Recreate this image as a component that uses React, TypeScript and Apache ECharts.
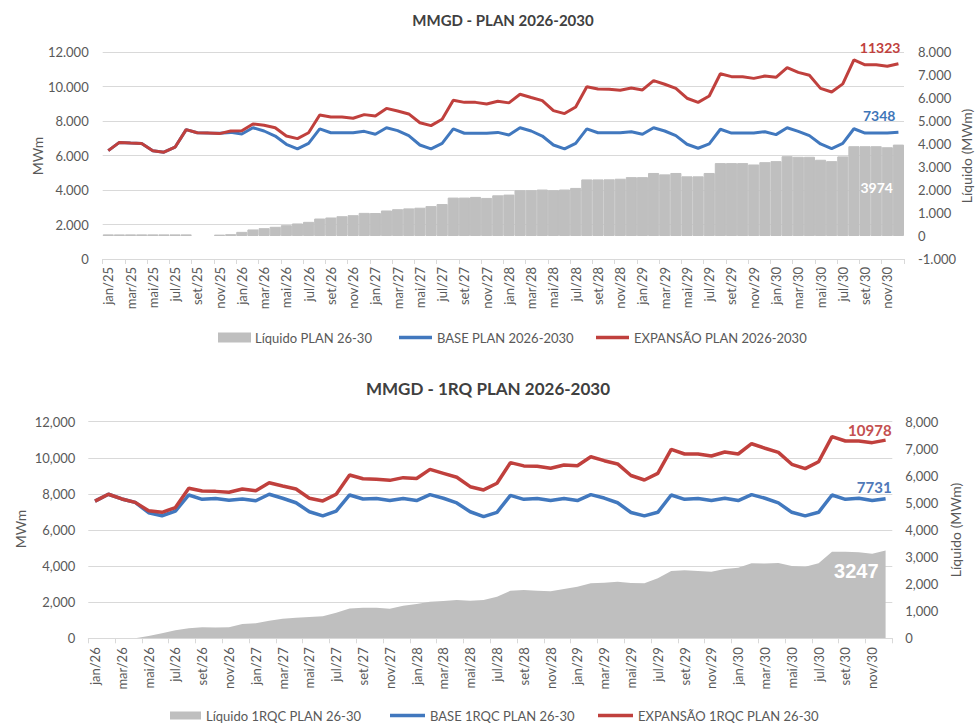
import React, { useEffect, useRef } from "react";
import * as echarts from "echarts";

const MONTHS = ["jan", "fev", "mar", "abr", "mai", "jun", "jul", "ago", "set", "out", "nov", "dez"];
const YEARS_TOP = ["25", "26", "27", "28", "29", "30"];
const YEARS_BOTTOM = ["26", "27", "28", "29", "30"];
const catsTop = YEARS_TOP.flatMap((y) => MONTHS.map((m) => `${m}/${y}`));
const catsBottom = YEARS_BOTTOM.flatMap((y) => MONTHS.map((m) => `${m}/${y}`));

const baseTop = [
  6280, 6760, 6720, 6690, 6280, 6190, 6480, 7500, 7320, 7300, 7290, 7340,
  7250, 7610, 7420, 7130, 6650, 6380, 6700, 7540, 7320, 7320, 7320, 7400,
  7230, 7610, 7440, 7150, 6610, 6380, 6700, 7540, 7290, 7290, 7290, 7340,
  7190, 7610, 7420, 7130, 6610, 6380, 6700, 7540, 7320, 7320, 7320, 7380,
  7230, 7610, 7420, 7150, 6650, 6420, 6670, 7520, 7300, 7300, 7300, 7380,
  7210, 7610, 7400, 7150, 6670, 6400, 6700, 7550, 7300, 7300, 7300, 7348,
];
const expTop = [
  6280, 6760, 6720, 6690, 6280, 6190, 6480, 7500, 7320, 7300, 7270, 7420,
  7440, 7830, 7750, 7610, 7130, 6980, 7320, 8350, 8230, 8230, 8160, 8370,
  8290, 8730, 8580, 8410, 7900, 7730, 8100, 9200, 9080, 9080, 8990, 9140,
  9050, 9550, 9360, 9180, 8600, 8430, 8810, 9990, 9860, 9840, 9780, 9910,
  9800, 10340, 10130, 9890, 9320, 9080, 9450, 10740, 10570, 10570, 10470, 10610,
  10530, 11090, 10820, 10650, 9890, 9680, 10150, 11540, 11260, 11260, 11170, 11323,
];
const liqTop = [
  70, 70, 70, 70, 70, 70, 70, 70, null, null, 60, 80,
  180, 285, 340, 400, 470, 545, 615, 760, 805, 860, 905, 1005,
  1000, 1110, 1165, 1200, 1230, 1300, 1390, 1670, 1670, 1700, 1655, 1770,
  1800, 1990, 1990, 2020, 1990, 2020, 2090, 2460, 2460, 2465, 2490, 2560,
  2560, 2740, 2680, 2740, 2595, 2595, 2740, 3170, 3170, 3170, 3110, 3210,
  3255, 3470, 3445, 3445, 3315, 3255, 3460, 3905, 3905, 3905, 3860, 3974,
];

const baseBottom = [
  7600, 7980, 7720, 7530, 6960, 6790, 7050, 7940, 7700, 7740, 7650, 7720,
  7620, 7980, 7760, 7510, 7010, 6780, 7050, 7940, 7720, 7740, 7630, 7740,
  7630, 7960, 7760, 7500, 7010, 6740, 6980, 7920, 7700, 7740, 7630, 7740,
  7630, 7960, 7770, 7510, 6970, 6780, 6980, 7940, 7700, 7740, 7630, 7760,
  7630, 7960, 7760, 7500, 6980, 6780, 6980, 7940, 7700, 7760, 7630, 7731,
];
const expBottom = [
  7600, 7980, 7720, 7530, 7070, 6980, 7240, 8310, 8160, 8140, 8090, 8270,
  8180, 8620, 8440, 8270, 7760, 7610, 7980, 9050, 8840, 8810, 8750, 8900,
  8850, 9360, 9140, 8920, 8400, 8220, 8590, 9730, 9550, 9530, 9420, 9600,
  9560, 10060, 9840, 9660, 9020, 8770, 9140, 10470, 10210, 10210, 10100, 10320,
  10210, 10780, 10530, 10300, 9640, 9400, 9780, 11170, 10930, 10930, 10840, 10978,
];
const liqBottom = [
  0, 0, 0, 0, 85, 185, 300, 370, 405, 400, 405, 528,
  553, 650, 725, 762, 787, 812, 946, 1100, 1130, 1130, 1094, 1204,
  1267, 1352, 1378, 1415, 1389, 1415, 1537, 1758, 1784, 1758, 1736, 1821,
  1906, 2032, 2054, 2091, 2040, 2032, 2216, 2486, 2512, 2486, 2460, 2560,
  2608, 2770, 2760, 2781, 2671, 2645, 2770, 3199, 3199, 3177, 3125, 3247,
];

const FONT = "Lato, 'Liberation Sans', sans-serif";
const RED = "#C0403D";
const BLUE = "#4178BE";
const GRAY = "#BFBFBF";
const TXT = "#595959";
const GRID = "#D9D9D9";

const fmtDot = (v: number) => {
  const s = Math.abs(v).toString().replace(/\B(?=(\d{3})+(?!\d))/g, ".");
  return (v < 0 ? "-" : "") + s;
};
const fmtComma = (v: number) => {
  const s = Math.abs(v).toString().replace(/\B(?=(\d{3})+(?!\d))/g, ",");
  return (v < 0 ? "-" : "") + s;
};

function lastLabel(arr: (number | null)[], label: any) {
  return arr.map((v, i) =>
    v === null ? "-" : i === arr.length - 1 ? { value: v, label: { show: true, ...label } } : v
  );
}

const axisLabelX = { rotate: 90, interval: 1, color: TXT, fontSize: 13, fontFamily: FONT, margin: 8 };

export default function App() {
  const ref = useRef<HTMLDivElement>(null);
  useEffect(() => {
    if (!ref.current) return;
    const chart = echarts.init(ref.current, undefined, { renderer: "svg" });
    const legendCommon = { padding: 0, textStyle: { color: TXT, fontSize: 13, fontFamily: FONT }, selectedMode: false };
    const option: any = {
      animation: false,
      backgroundColor: "#fff",
      graphic: [
        { type: "text", x: 503, y: 20, style: { text: "MMGD - PLAN 2026-2030", fill: "#404040", font: `bold 15px ${FONT}`, align: "center", verticalAlign: "middle" } },
        { type: "text", x: 488, y: 388, style: { text: "MMGD - 1RQ PLAN 2026-2030", fill: "#404040", font: `bold 17px ${FONT}`, align: "center", verticalAlign: "middle" } },
        { type: "text", x: 37, y: 156, rotation: Math.PI / 2, style: { text: "MWm", fill: TXT, font: `14px ${FONT}`, align: "center", verticalAlign: "middle" } },
        { type: "text", x: 966, y: 156, rotation: Math.PI / 2, style: { text: "Líquido (MWm)", fill: TXT, font: `14px ${FONT}`, align: "center", verticalAlign: "middle" } },
        { type: "text", x: 20, y: 529, rotation: Math.PI / 2, style: { text: "MWm", fill: TXT, font: `14px ${FONT}`, align: "center", verticalAlign: "middle" } },
        { type: "text", x: 955, y: 530, rotation: Math.PI / 2, style: { text: "Líquido (MWm)", fill: TXT, font: `14px ${FONT}`, align: "center", verticalAlign: "middle" } },
      ],
      legend: [
        { ...legendCommon, data: ["Líquido PLAN 26-30"], left: 218, top: 331, icon: "rect", itemWidth: 31, itemHeight: 8 },
        { ...legendCommon, data: ["BASE PLAN 2026-2030"], left: 399, top: 331, icon: "rect", itemWidth: 33, itemHeight: 3.5 },
        { ...legendCommon, data: ["EXPANSÃO PLAN 2026-2030"], left: 596, top: 331, icon: "rect", itemWidth: 33, itemHeight: 3.5 },
        { ...legendCommon, data: ["Líquido 1RQC PLAN 26-30"], left: 170, top: 709, icon: "rect", itemWidth: 31, itemHeight: 8 },
        { ...legendCommon, data: ["BASE 1RQC PLAN 26-30"], left: 390, top: 709, icon: "rect", itemWidth: 35, itemHeight: 3.5 },
        { ...legendCommon, data: ["EXPANSÃO 1RQC PLAN 26-30"], left: 598, top: 709, icon: "rect", itemWidth: 35, itemHeight: 3.5 },
      ],
      grid: [
        { left: 102.7, right: 73, top: 52, height: 207 },
        { left: 88.3, right: 84.7, top: 421.7, height: 216.6 },
      ],
      xAxis: [
        {
          type: "category", gridIndex: 0, data: catsTop, boundaryGap: true,
          axisLine: { onZero: false, lineStyle: { color: GRID } },
          axisTick: { show: true, interval: 1, length: 5, lineStyle: { color: GRID } },
          axisLabel: axisLabelX,
        },
        {
          type: "category", gridIndex: 1, data: catsBottom, boundaryGap: true,
          axisLine: { onZero: false, lineStyle: { color: GRID } },
          axisTick: { show: true, interval: 1, length: 5, lineStyle: { color: GRID } },
          axisLabel: { ...axisLabelX, margin: 9 },
        },
      ],
      yAxis: [
        {
          type: "value", gridIndex: 0, min: 0, max: 12000, interval: 2000, position: "left",
          axisLine: { show: false }, axisTick: { show: false },
          splitLine: { lineStyle: { color: GRID } },
          axisLabel: { color: TXT, fontSize: 13, fontFamily: FONT, margin: 14, formatter: fmtDot },
        },
        {
          type: "value", gridIndex: 0, min: -1000, max: 8000, interval: 1000, position: "right",
          axisLine: { show: false }, axisTick: { show: false }, splitLine: { show: false },
          axisLabel: { color: TXT, fontSize: 13, fontFamily: FONT, margin: 14, formatter: fmtDot },
        },
        {
          type: "value", gridIndex: 1, min: 0, max: 12000, interval: 2000, position: "left",
          axisLine: { show: false }, axisTick: { show: false },
          splitLine: { lineStyle: { color: GRID } },
          axisLabel: { color: TXT, fontSize: 13, fontFamily: FONT, margin: 13, formatter: fmtComma },
        },
        {
          type: "value", gridIndex: 1, min: 0, max: 8000, interval: 1000, position: "right",
          axisLine: { show: false }, axisTick: { show: false }, splitLine: { show: false },
          axisLabel: { color: TXT, fontSize: 13, fontFamily: FONT, margin: 13, formatter: fmtComma },
        },
      ],
      series: [
        {
          name: "Líquido PLAN 26-30", type: "bar", xAxisIndex: 0, yAxisIndex: 1,
          barCategoryGap: "0%", itemStyle: { color: GRAY, borderColor: GRAY, borderWidth: 1 }, silent: true, z: 1,
          data: lastLabel(liqTop, {
            position: [0, 43], align: "right", verticalAlign: "middle",
            color: "#fff", fontWeight: "bold", fontSize: 14, fontFamily: FONT,
          }),
        },
        {
          name: "BASE PLAN 2026-2030", type: "line", xAxisIndex: 0, yAxisIndex: 0,
          symbol: "circle", symbolSize: 0, showSymbol: true, silent: true, z: 3,
          itemStyle: { color: BLUE }, lineStyle: { color: BLUE, width: 3 },
          data: lastLabel(baseTop, {
            position: "top", align: "right", offset: [-3, -5],
            color: "#3F76B8", fontWeight: "bold", fontSize: 14, fontFamily: FONT,
          }),
        },
        {
          name: "EXPANSÃO PLAN 2026-2030", type: "line", xAxisIndex: 0, yAxisIndex: 0,
          symbol: "circle", symbolSize: 0, showSymbol: true, silent: true, z: 4,
          itemStyle: { color: RED }, lineStyle: { color: RED, width: 3 },
          data: lastLabel(expTop, {
            position: "top", align: "right", offset: [2, -4],
            color: RED, fontWeight: "bold", fontSize: 14, fontFamily: FONT,
          }),
        },
        {
          name: "Líquido 1RQC PLAN 26-30", type: "line", xAxisIndex: 1, yAxisIndex: 3,
          symbol: "circle", symbolSize: 0, showSymbol: true, silent: true, z: 1,
          itemStyle: { color: GRAY }, lineStyle: { width: 0, color: GRAY },
          areaStyle: { color: GRAY, opacity: 1 },
          data: lastLabel(liqBottom, {
            position: "bottom", align: "right", offset: [-7, 6],
            color: "#fff", fontWeight: "bold", fontSize: 20, fontFamily: "'Liberation Sans', Arial, sans-serif",
          }),
        },
        {
          name: "BASE 1RQC PLAN 26-30", type: "line", xAxisIndex: 1, yAxisIndex: 2,
          symbol: "circle", symbolSize: 0, showSymbol: true, silent: true, z: 3,
          itemStyle: { color: BLUE }, lineStyle: { color: BLUE, width: 3.5 },
          data: lastLabel(baseBottom, {
            position: "top", align: "right", offset: [6, 1],
            color: "#5079B8", fontWeight: "bold", fontSize: 15, fontFamily: FONT,
          }),
        },
        {
          name: "EXPANSÃO 1RQC PLAN 26-30", type: "line", xAxisIndex: 1, yAxisIndex: 2,
          symbol: "circle", symbolSize: 0, showSymbol: true, silent: true, z: 4,
          itemStyle: { color: RED }, lineStyle: { color: RED, width: 3.5 },
          data: lastLabel(expBottom, {
            position: "top", align: "right", offset: [6, 2],
            color: "#C45050", fontWeight: "bold", fontSize: 15, fontFamily: FONT,
          }),
        },
      ],
    };
    chart.setOption(option);
    return () => chart.dispose();
  }, []);
  return (
    <div style={{ position: "absolute", left: 0, top: 0, width: 977, height: 723, background: "#fff" }}>
      <div ref={ref} style={{ width: 977, height: 723 }} />
    </div>
  );
}
